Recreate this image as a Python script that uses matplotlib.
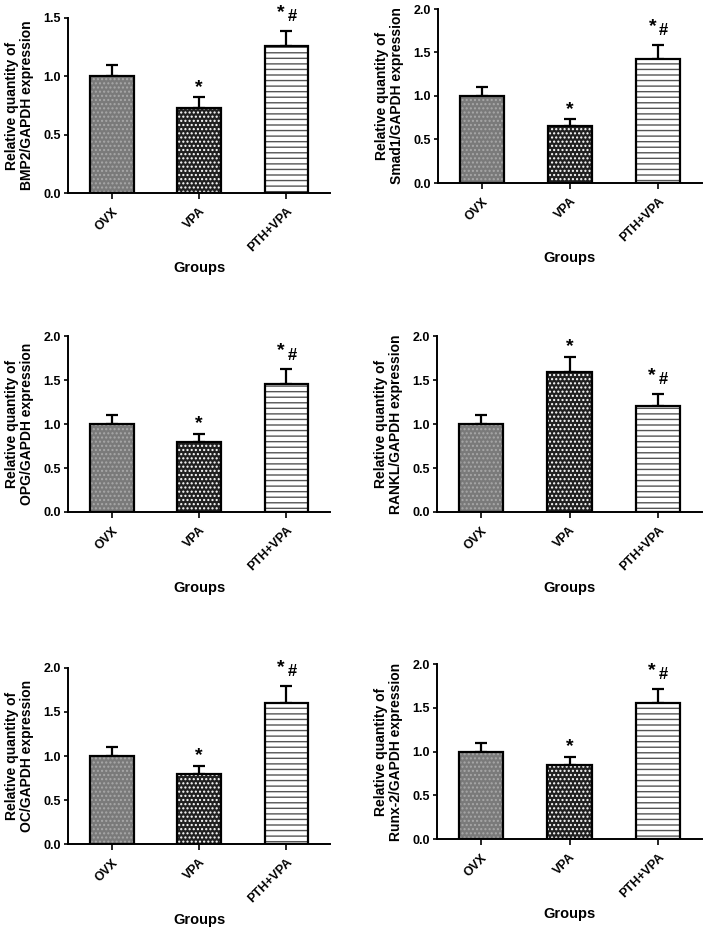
import numpy as np
import matplotlib
matplotlib.use("Agg")
import matplotlib.pyplot as plt

plt.rcParams['font.family'] = ['Liberation Sans', 'DejaVu Sans']
plt.rcParams['font.weight'] = 'bold'
plt.rcParams['hatch.linewidth'] = 1.0

# 数据
groups = ["OVX", "VPA", "PTH+VPA"]
genes = ["BMP2", "Smad1", "OPG", "RANKL", "OC", "Runx-2"]

bmp2_mean = [1.00, 0.73, 1.26]
bmp2_err = [0.10, 0.09, 0.13]
smad1_mean = [1.00, 0.65, 1.42]
smad1_err = [0.10, 0.08, 0.17]
opg_mean = [1.00, 0.79, 1.45]
opg_err = [0.10, 0.10, 0.17]
rankl_mean = [1.00, 1.59, 1.21]
rankl_err = [0.10, 0.17, 0.13]
oc_mean = [1.00, 0.80, 1.60]
oc_err = [0.10, 0.09, 0.20]
runx2_mean = [1.00, 0.85, 1.56]
runx2_err = [0.10, 0.09, 0.16]

# 显著性标记
marks = [["", "*", "*#"],
         ["", "*", "*#"],
         ["", "*", "*#"],
         ["", "*", "*#"],
         ["", "*", "*#"],
         ["", "*", "*#"]]

means = [bmp2_mean, smad1_mean, opg_mean, rankl_mean, oc_mean, runx2_mean]
errs = [bmp2_err, smad1_err, opg_err, rankl_err, oc_err, runx2_err]
ytops = [1.5, 2.0, 2.0, 2.0, 2.0, 2.0]

W, H = 705, 930
# 每个子图的像素位置 (左, 轴底, 宽, 高)
boxes = [(68, 193, 262, 175), (438, 183, 264, 174),
         (68, 512, 262, 176), (437, 512, 265, 176),
         (68, 844, 262, 176), (437, 839, 265, 175)]

# 三种填充: 灰色细点, 黑白棋盘, 横线
fills = [dict(face='#7a7a7a', hatch='....', hc='#a8a8a8'),
         dict(face='#202020', hatch='....', hc='white'),
         dict(face='white', hatch='---', hc='#555555')]

fig = plt.figure(figsize=(W / 100, H / 100), dpi=100)

for k, gene in enumerate(genes):
    l, b, w, h = boxes[k]
    ax = fig.add_axes([l / W, (H - b) / H, w / W, h / H])
    x = np.arange(len(groups))
    m = means[k]
    e = errs[k]
    ax.errorbar(x, m, yerr=[np.zeros(3), e], fmt='none', ecolor='black',
                elinewidth=1.6, capsize=4, capthick=1.6, zorder=1)
    for i in range(3):
        f = fills[i]
        ax.bar(x[i], m[i], width=0.5, color=f['face'], edgecolor=f['hc'],
               hatch=f['hatch'], linewidth=0, zorder=2)
    ax.bar(x, m, width=0.5, color='none', edgecolor='black', linewidth=1.6, zorder=3)

    for i in range(3):
        s = marks[k][i]
        top = m[i] + e[i]
        if s == "*":
            ax.annotate("*", (x[i], top), xytext=(0, 4), textcoords='offset points',
                        ha='center', va='baseline', fontsize=14, fontweight='bold')
        elif s == "*#":
            ax.annotate("*", (x[i], top), xytext=(-4, 10), textcoords='offset points',
                        ha='center', va='baseline', fontsize=14, fontweight='bold')
            ax.annotate("#", (x[i], top), xytext=(4, 7), textcoords='offset points',
                        ha='center', va='baseline', fontsize=12, fontweight='bold')

    ax.set_xlim(-0.5, 2.5)
    ax.set_ylim(0, ytops[k])
    yt = np.arange(0, ytops[k] + 0.01, 0.5)
    ax.set_yticks(yt)
    ax.set_yticklabels([f"{v:.1f}" for v in yt], fontsize=9, fontweight='bold')
    ax.set_xticks(x)
    ax.set_xticklabels(groups, rotation=45, ha='right', rotation_mode='anchor',
                       fontsize=9, fontweight='bold')
    ax.tick_params(axis='both', direction='out', length=3, width=1.2, pad=2)
    ax.tick_params(axis='x', length=4, pad=5)
    for sp in ['top', 'right']:
        ax.spines[sp].set_visible(False)
    for sp in ['left', 'bottom']:
        ax.spines[sp].set_linewidth(1.4)
    ax.set_ylabel(f"Relative quantity of\n{gene}/GAPDH expression",
                  fontsize=10, fontweight='bold', linespacing=1.05, labelpad=7)
    ax.set_xlabel("Groups", fontsize=10.5, fontweight='bold')
    ax.xaxis.set_label_coords(0.5, -0.39)

fig.savefig("out.png", dpi=100)
